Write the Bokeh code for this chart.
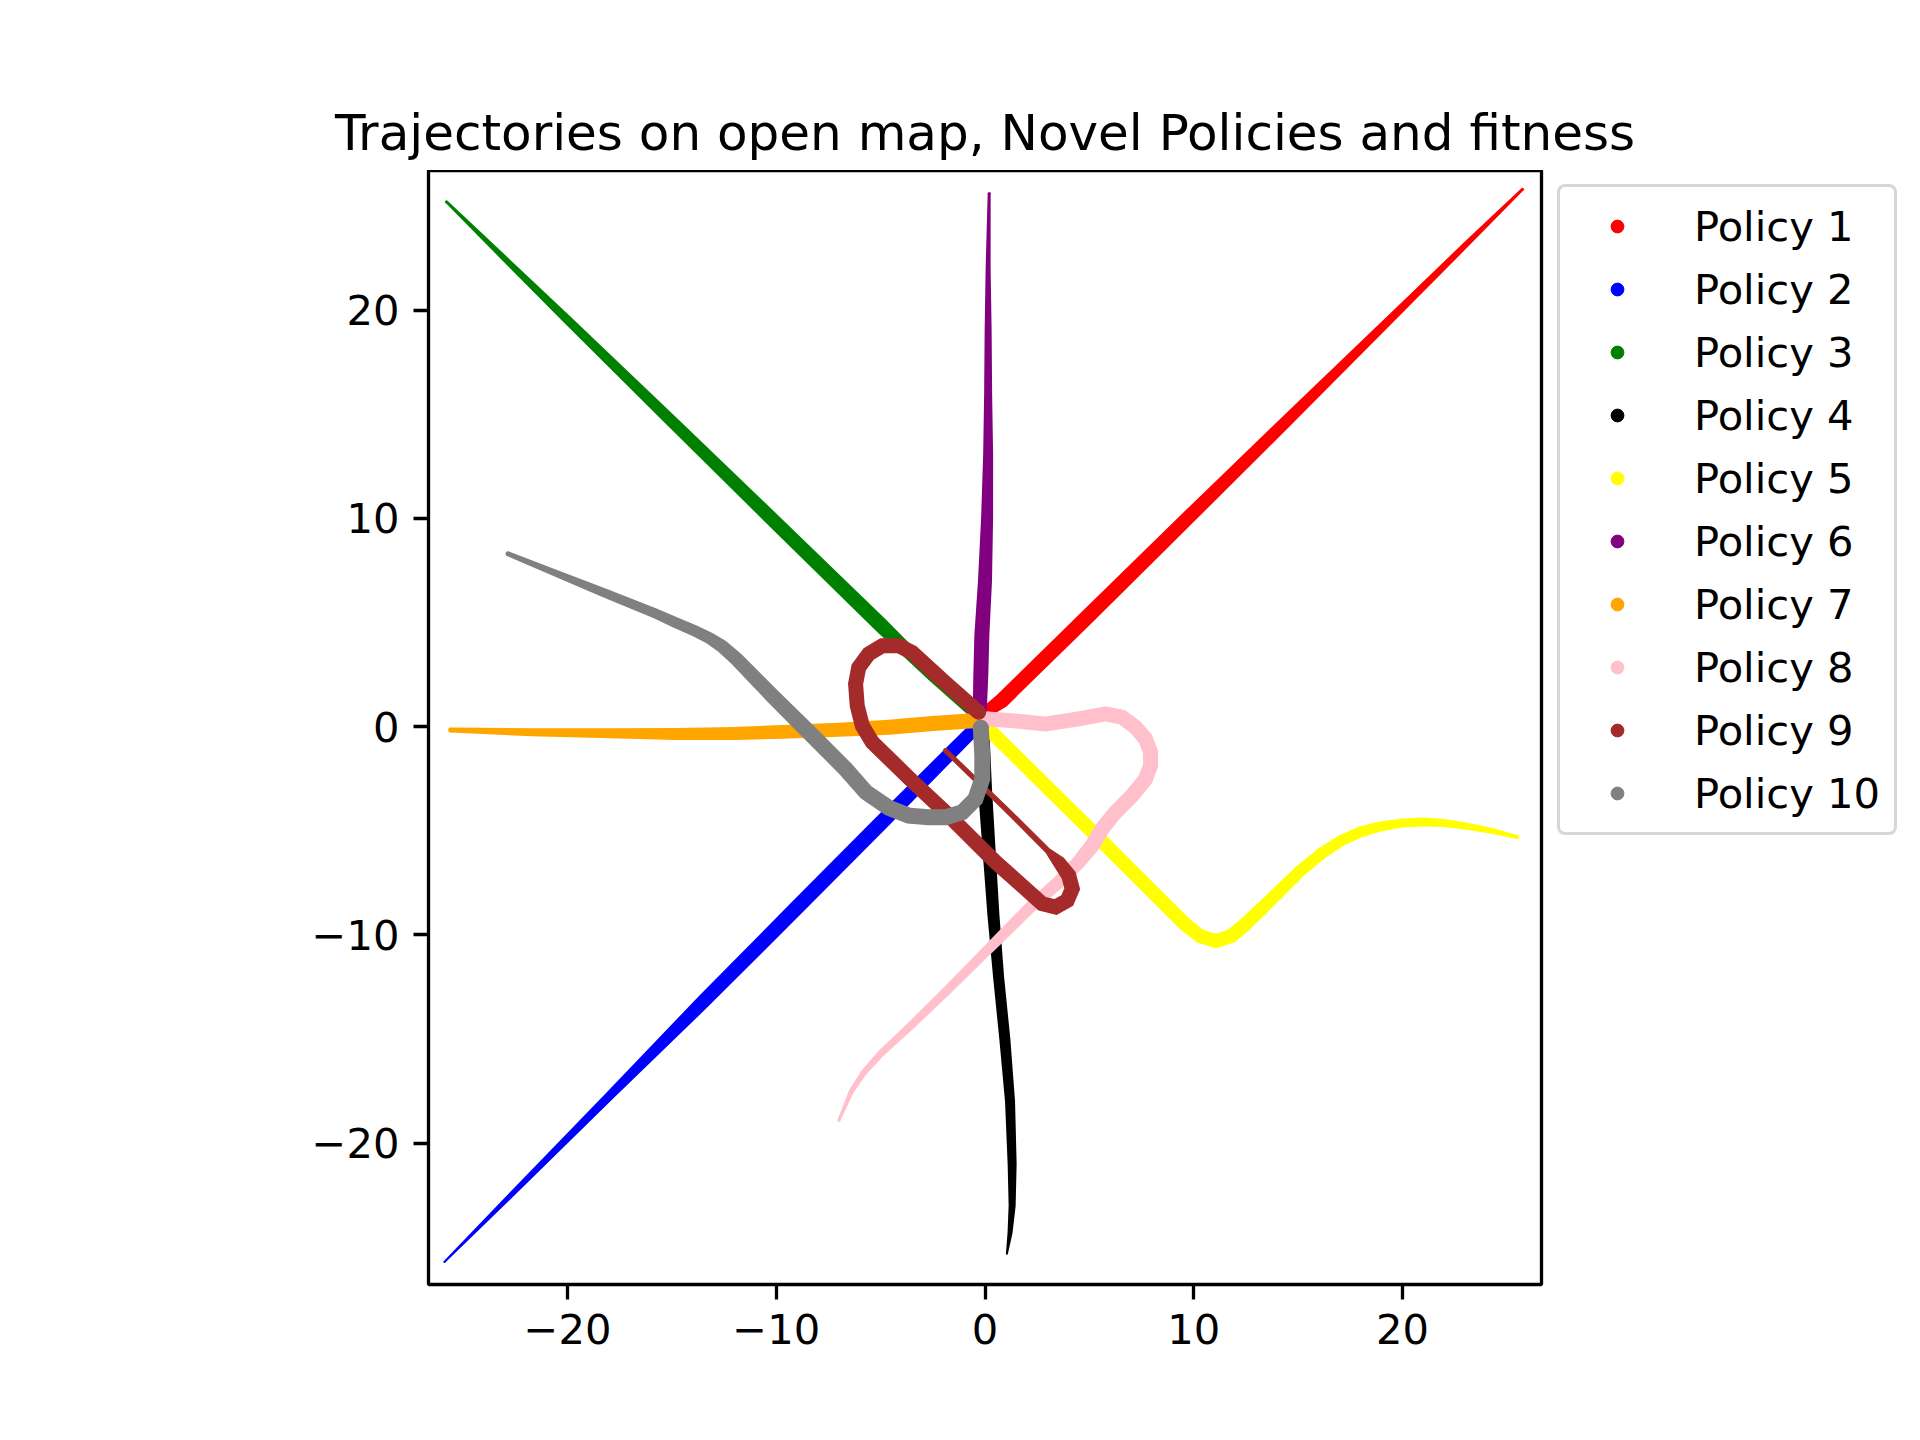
"""Trajectories of ten novel policies on the open map."""
import math

from bokeh.embed import file_html
from bokeh.layouts import column, row
from bokeh.models import FixedTicker, Legend, LegendItem
from bokeh.plotting import figure
from bokeh.resources import INLINE

FONT = "DejaVu Sans"
TITLE = "Trajectories on open map, Novel Policies and fitness"

LABELS = ["Policy 1", "Policy 2", "Policy 3", "Policy 4", "Policy 5",
          "Policy 6", "Policy 7", "Policy 8", "Policy 9", "Policy 10"]
COLORS = ["red", "blue", "green", "black", "yellow",
          "purple", "orange", "pink", "brown", "gray"]
TICKS = [-20, -10, 0, 10, 20]

# trajectory waypoints (x, y in map units)
P1_X = [0.1, 0.8, 5.0, 10.0, 14.4, 20.2, 23.0, 25.75]
P1_Y = [0.75, 1.25, 5.37, 10.3, 14.63, 20.34, 23.1, 25.8]
P2_X = [-0.6, -5.0, -9.0, -13.5, -18.0, -23.1, -25.9]
P2_Y = [-0.2, -4.64, -8.67, -13.2, -17.74, -22.88, -25.7]
P3_X = [-0.3, -2.5, -5.0, -10.0, -15.0, -20.0, -23.0, -25.8]
P3_Y = [0.3, 2.45, 4.89, 9.77, 14.65, 19.53, 22.46, 25.2]
P4_X = [-0.1, 0.0, 0.2, 0.4, 0.65, 0.95, 1.2, 1.3, 1.3, 1.2, 1.05]
P4_Y = [0.3, -3.0, -6.0, -9.0, -12.0, -15.0, -18.0, -21.0, -23.0, -24.3, -25.3]
P5_X = [0.35, 5.0, 9.6, 10.3, 11.06, 11.8, 12.4, 13.7, 15.07, 16.1, 17.1, 18.0, 18.9,
        20.0, 21.0, 22.0, 23.1, 24.3, 25.5]
P5_Y = [-0.3, -4.9, -9.5, -10.05, -10.3, -10.05, -9.55, -8.3, -6.95, -6.1, -5.45, -5.05,
        -4.8, -4.62, -4.58, -4.62, -4.78, -5.0, -5.3]
P6_X = [-0.25, -0.2, -0.15, 0.0, 0.1, 0.15, 0.15, 0.15, 0.15, 0.2]
P6_Y = [0.8, 2.5, 4.4, 7.0, 10.0, 13.0, 16.0, 19.0, 22.0, 25.6]
P7_X = [-25.6, -21.7, -18.0, -14.8, -12.0, -9.7, -7.0, -4.6, -2.5, -1.1, -0.6]
P7_Y = [-0.16, -0.27, -0.32, -0.35, -0.33, -0.25, -0.15, -0.03, 0.15, 0.25, 0.28]
P8_X = [0.1, 1.3, 2.9, 4.49, 5.77, 6.57, 7.21, 7.69, 7.93, 7.93, 7.69, 7.05, 6.25, 5.61,
        5.14, 4.49, 3.54, 2.26, 0.98, -0.3, -1.89, -3.5, -5.0, -5.8, -6.4, -7.0]
P8_Y = [0.37, 0.29, 0.13, 0.37, 0.61, 0.45, -0.03, -0.59, -1.23, -1.87, -2.51, -3.31,
        -4.11, -4.9, -5.7, -6.5, -7.46, -8.58, -9.86, -11.14, -12.74, -14.3, -15.7,
        -16.6, -17.5, -18.9]
P9_X = [-0.3, -1.9, -3.49, -4.13, -4.92, -5.57, -6.05, -6.2, -6.12, -5.88, -5.4, -3.5,
        -1.89, 0.5, 1.94, 2.74, 3.38, 3.94, 4.18, 4.01, 3.54, 3.0, 1.0, -1.89]
P9_Y = [0.69, 2.1, 3.56, 3.88, 3.88, 3.49, 2.84, 2.05, 1.0, 0.05, -0.75, -2.6, -4.11,
        -6.5, -7.78, -8.5, -8.66, -8.34, -7.78, -7.14, -6.5, -5.95, -3.95, -1.15]
P10_X = [-22.85, -20.5, -18.25, -15.8, -14.83, -13.9, -13.2, -12.6, -11.92, -10.2, -8.5,
         -6.68, -5.7, -4.6, -3.65, -2.7, -1.89, -1.09, -0.46, -0.13, -0.13, -0.2]
P10_Y = [8.3, 7.34, 6.43, 5.44, 5.0, 4.6, 4.25, 3.86, 3.26, 1.49, -0.2, -2.03, -3.15,
         -3.9, -4.27, -4.35, -4.35, -4.11, -3.47, -2.51, -1.39, -0.05]

TRAJ_X = [P1_X, P2_X, P3_X, P4_X, P5_X, P6_X, P7_X, P8_X, P9_X, P10_X]
TRAJ_Y = [P1_Y, P2_Y, P3_Y, P4_Y, P5_Y, P6_Y, P7_Y, P8_Y, P9_Y, P10_Y]

# stroke width (px) at each waypoint: the markers shrink towards the far ends
WIDTHS = [
    [12, 15, 15, 14, 12, 8, 6, 3],
    [13, 15, 15, 14, 9, 5, 2],
    [6, 12, 15, 14, 12, 9, 6, 3],
    [12, 14, 13, 12, 11, 11, 10, 9, 7, 5, 2],
    [14, 14, 14, 14, 14, 14, 14, 13, 12, 12, 11, 11, 10, 9, 9, 8, 7, 6, 4],
    [14, 15, 15, 14, 12, 10, 8, 7, 5, 3],
    [5, 8, 10, 12, 13, 14, 14, 15, 15, 15, 15],
    [15, 15, 15, 15, 15, 15, 15, 15, 15, 15, 15, 15, 15, 15, 15, 14, 13, 12, 11, 10,
     9, 8, 7, 6, 5, 3],
    [15, 15, 15, 15, 15, 15, 15, 15, 15, 15, 15, 15, 15, 15, 15, 15, 15, 15, 15, 15, 13,
     6, 5.5, 5],
    [5, 7, 9, 10, 11, 11.5, 12, 13, 14, 15, 16, 16, 16, 16, 16, 16, 16, 16, 16, 16, 16,
     16],
]

W, H = 1904, 1424
TITLE_H = 170
LEGEND_W = 353
BORDER = dict(left=428, right=10, bottom=140)
X_RANGE = (-26.66, 26.66)
Y_RANGE = (-26.78, 26.7)
FRAME_W = W - LEGEND_W - BORDER["left"] - BORDER["right"]
UNITS_PER_PX = (X_RANGE[1] - X_RANGE[0]) / FRAME_W


def unit(dx, dy):
    n = math.hypot(dx, dy) or 1.0
    return dx / n, dy / n


def ribbon(xs, ys, widths):
    """Outline of a stroke whose width changes along the path."""
    n = len(xs)
    left_x, left_y, right_x, right_y = [], [], [], []
    for i in range(n):
        dirs = []
        if i > 0:
            dirs.append(unit(xs[i] - xs[i - 1], ys[i] - ys[i - 1]))
        if i < n - 1:
            dirs.append(unit(xs[i + 1] - xs[i], ys[i + 1] - ys[i]))
        tx, ty = unit(sum(d[0] for d in dirs), sum(d[1] for d in dirs))
        cos_half = max(abs(tx * dirs[0][0] + ty * dirs[0][1]), 0.5)
        h = widths[i] / 2 * UNITS_PER_PX / cos_half
        left_x.append(xs[i] - ty * h)
        left_y.append(ys[i] + tx * h)
        right_x.append(xs[i] + ty * h)
        right_y.append(ys[i] - tx * h)
    return left_x + right_x[::-1], left_y + right_y[::-1]


def blank(width, height, **kw):
    fig = figure(
        width=width, height=height, output_backend="svg", toolbar_location=None,
        x_range=(0, 1), y_range=(0, 1), x_axis_location=None, y_axis_location=None,
        outline_line_color=None, background_fill_color="white",
        border_fill_color="white", **kw,
    )
    fig.grid.visible = False
    return fig


# title strip spanning the whole width, centred over the axes below
head = blank(W, TITLE_H, min_border_left=BORDER["left"],
             min_border_right=W - BORDER["left"] - FRAME_W,
             min_border_top=TITLE_H - 3, min_border_bottom=0)
head.title.text = TITLE
head.title.align = "center"
head.title.text_font = FONT
head.title.text_font_size = "50px"
head.title.text_font_style = "normal"
head.title.text_color = "black"
head.title.standoff = 12

p = figure(
    width=W - LEGEND_W, height=H - TITLE_H, output_backend="svg", toolbar_location=None,
    x_range=X_RANGE, y_range=Y_RANGE, title=None,
    min_border_left=BORDER["left"], min_border_right=BORDER["right"],
    min_border_top=0, min_border_bottom=BORDER["bottom"],
    background_fill_color="white", border_fill_color="white",
)
p.grid.visible = False
p.outline_line_color = "black"
p.outline_line_width = 3.3

for axis in (p.xaxis, p.yaxis):
    axis.ticker = FixedTicker(ticks=TICKS)
    axis.major_label_overrides = {t: str(t).replace("-", "\u2212") for t in TICKS}
    axis.axis_line_color = None
    axis.major_tick_in = 0
    axis.major_tick_out = 15
    axis.major_tick_line_width = 3.3
    axis.major_tick_line_color = "black"
    axis.minor_tick_out = 0
    axis.minor_tick_in = 0
    axis.major_label_standoff = 14
    axis.major_label_text_font = FONT
    axis.major_label_text_font_size = "41.67px"
    axis.major_label_text_color = "black"

for color, xs, ys, widths in zip(COLORS, TRAJ_X, TRAJ_Y, WIDTHS):
    rx, ry = ribbon(xs, ys, widths)
    p.patch(rx, ry, fill_color=color, line_color=None)
    p.scatter([xs[0], xs[-1]], [ys[0], ys[-1]], size=[widths[0], widths[-1]],
              marker="circle", color=color, line_width=0)

# legend sits in its own panel to the right of the axes
side = blank(LEGEND_W, H - TITLE_H, title=None, min_border_left=0, min_border_right=0,
             min_border_top=0, min_border_bottom=BORDER["bottom"])
items = []
for label, color in zip(LABELS, COLORS):
    dot = side.scatter([-5], [-5], marker="circle", size=13, color=color)
    items.append(LegendItem(label=label, renderers=[dot]))

legend = Legend(
    items=items, location=(6, 449), orientation="vertical",
    glyph_width=86, glyph_height=32, label_height=50, label_standoff=34,
    spacing=13, padding=14, margin=0,
    label_text_font=FONT, label_text_font_size="41.67px", label_text_color="black",
    border_line_color="#cccccc", border_line_width=3, border_line_alpha=0.8,
    border_radius=8, background_fill_color="white", background_fill_alpha=0.8,
)
side.add_layout(legend)

page = column(head, row(p, side))
open("out.html", "w").write(file_html(page, INLINE))
